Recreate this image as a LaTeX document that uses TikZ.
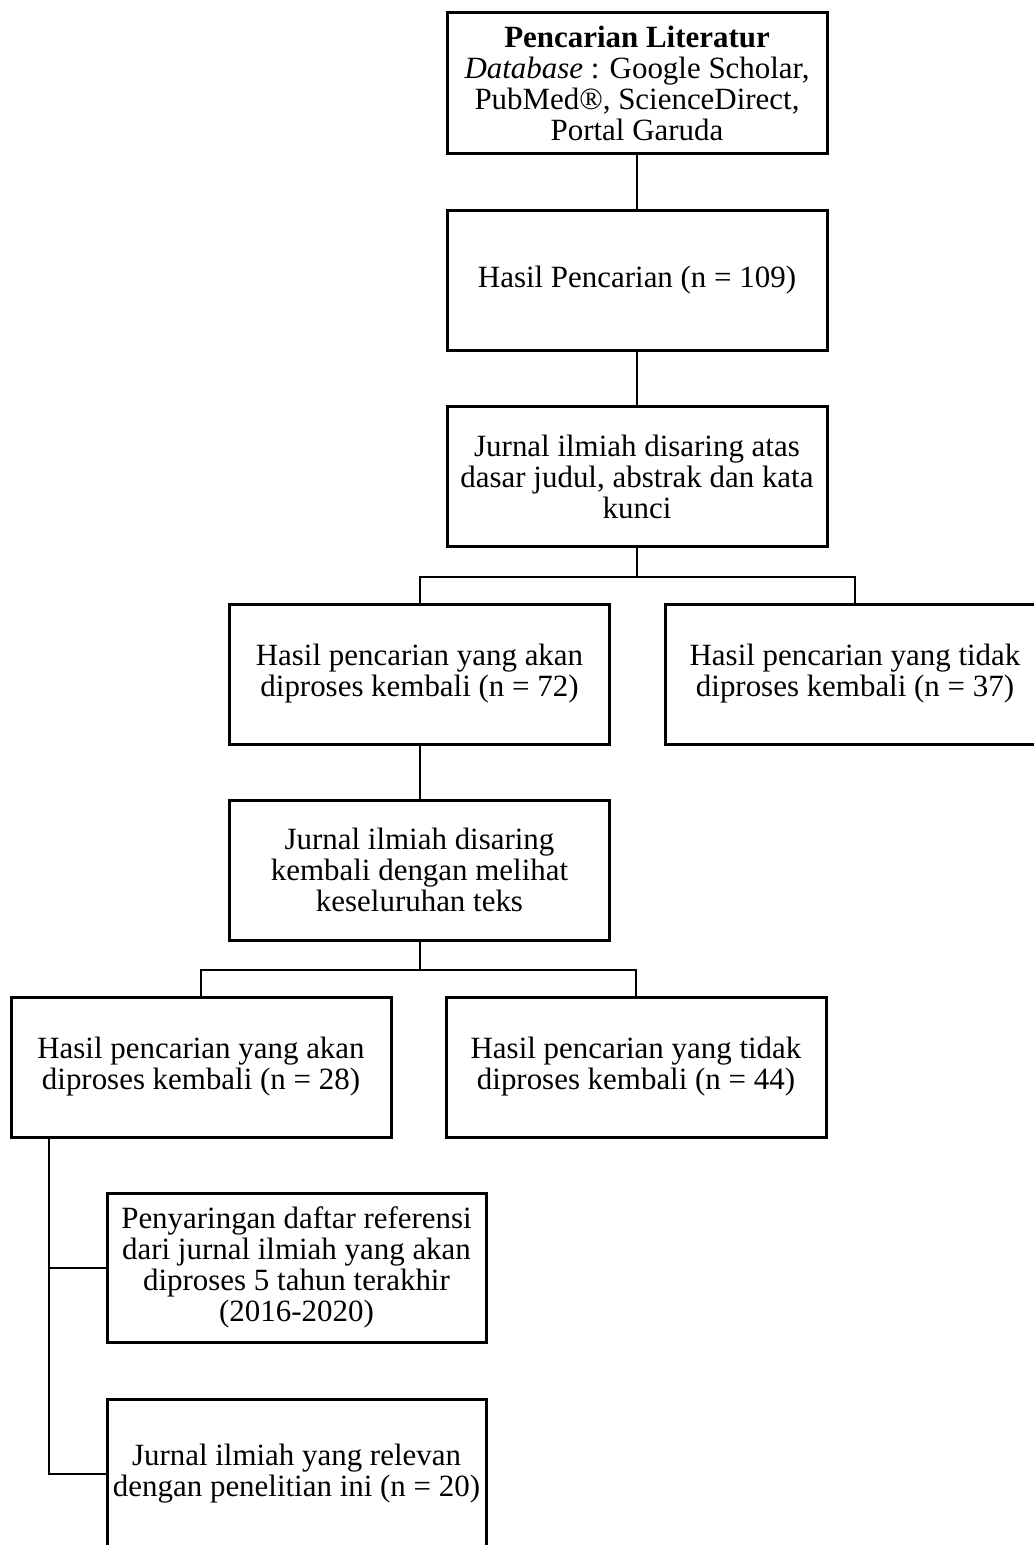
\documentclass[tikz,border=0pt]{standalone}
\usepackage{fontspec}
\setmainfont{Liberation Serif}
\begin{document}
\begin{tikzpicture}[x=0.75pt,y=-0.75pt,
  box/.style={draw, line width=2.25pt, minimum width=285pt, minimum height=105pt,
    align=center, inner sep=0pt, font=\fontsize{23.2}{23.25}\selectfont},
  conn/.style={line width=1.5pt}]
\useasboundingbox (0,0) rectangle (1034,1545);
\node[box] (n1) at (637,83) {\textbf{Pencarian Literatur}\\\textit{Database} : Google Scholar,\\PubMed®, ScienceDirect,\\Portal Garuda};
\node[box] (n2) at (637,280.5) {Hasil Pencarian (n = 109)};
\node[box] (n3) at (637,476.5) {Jurnal ilmiah disaring atas\\dasar judul, abstrak dan kata\\kunci};
\node[box] (n4) at (419.5,674) {Hasil pencarian yang akan\\diproses kembali (n = 72)};
\node[box] (n5) at (855,674) {Hasil pencarian yang tidak\\diproses kembali (n = 37)};
\node[box] (n6) at (419.5,870) {Jurnal ilmiah disaring\\kembali dengan melihat\\keseluruhan teks};
\node[box] (n7) at (201,1067) {Hasil pencarian yang akan\\diproses kembali (n = 28)};
\node[box] (n8) at (636,1067) {Hasil pencarian yang tidak\\diproses kembali (n = 44)};
\node[box, minimum width=284.25pt, minimum height=111.75pt] (n9) at (296.5,1267.5) {Penyaringan daftar referensi\\dari jurnal ilmiah yang akan\\diproses 5 tahun terakhir\\(2016-2020)};
\node[box, minimum width=284.25pt, minimum height=111.75pt] (n10) at (296.5,1474) {Jurnal ilmiah yang relevan\\dengan penelitian ini (n = 20)};
\draw[conn] (n1) -- (n2);
\draw[conn] (n2) -- (n3);
\draw[conn] (n3.south) -- ++(0,29) coordinate (s1);
\draw[conn] (s1) -| (n4.north);
\draw[conn] (s1) -| (n5.north);
\draw[conn] (n4) -- (n6);
\draw[conn] (n6.south) -- ++(0,28) coordinate (s2);
\draw[conn] (s2) -| (n7.north);
\draw[conn] (s2) -| (n8.north);
\coordinate (c7) at (49,1137);
\draw[conn] (c7) |- (n10.west);
\draw[conn] (c7 |- n9.west) -- (n9.west);
\end{tikzpicture}
\end{document}
